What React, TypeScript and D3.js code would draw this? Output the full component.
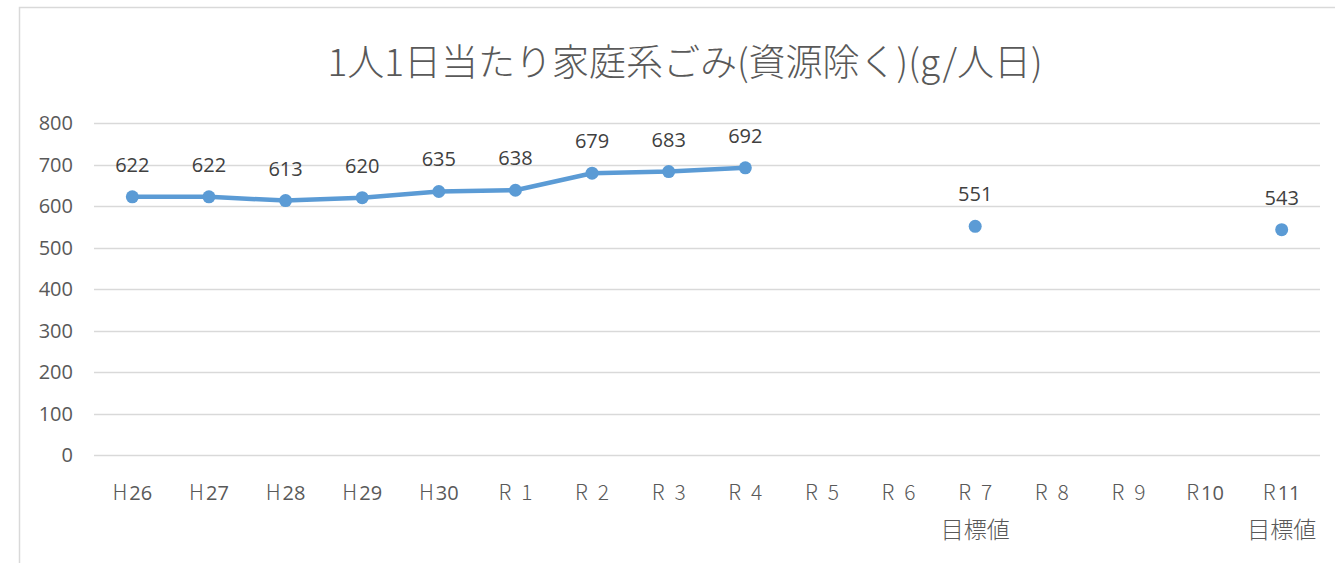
import * as d3 from "d3";
import { useEffect, useRef } from "react";

const categories = ["H26", "H27", "H28", "H29", "H30", "R1", "R2", "R3", "R4", "R5", "R6", "R7", "R8", "R9", "R10", "R11"];
const values: (number | null)[] = [622, 622, 613, 620, 635, 638, 679, 683, 692, null, null, 551, null, null, null, 543];
const subLabels = ["", "", "", "", "", "", "", "", "", "", "", "目標値", "", "", "", "目標値"];
const yTicks = [0, 100, 200, 300, 400, 500, 600, 700, 800];
const title = "1人1日当たり家庭系ごみ(資源除く)(g/人日)";

const W = 1335;
const H = 563;

const App = () => {
  const svgRef = useRef<SVGSVGElement>(null);

  useEffect(() => {
    document.body.style.margin = "0";
    const svg = d3.select(svgRef.current).attr("width", W).attr("height", H);
    svg.selectAll("*").remove();

    const x = d3.scaleBand().domain(categories).range([94, 1320]);
    const y = d3.scaleLinear().domain([0, 800]).range([455, 123]);
    const cx = (c: string) => (x(c) as number) + x.bandwidth() / 2;

    // chart frame
    svg.append("path")
      .attr("d", `M19.5,${H} V7.5 H${W}`)
      .attr("fill", "none")
      .attr("stroke", "#d9d9d9")
      .attr("stroke-width", 1.5);

    svg.append("text")
      .attr("x", 685)
      .attr("y", 76)
      .attr("text-anchor", "middle")
      .attr("font-family", "'Noto Sans CJK JP', sans-serif")
      .attr("font-weight", 300)
      .attr("font-size", 37)
      .attr("fill", "#595959")
      .text(title);

    // gridlines
    svg.append("g")
      .selectAll("line")
      .data(yTicks)
      .enter()
      .append("line")
      .attr("x1", 94)
      .attr("x2", 1320)
      .attr("y1", (d) => Math.round(y(d)) + 0.5)
      .attr("y2", (d) => Math.round(y(d)) + 0.5)
      .attr("stroke", "#d9d9d9")
      .attr("stroke-width", 1.3);

    svg.append("g")
      .selectAll("text")
      .data(yTicks)
      .enter()
      .append("text")
      .attr("x", 73)
      .attr("y", (d) => y(d) + 7)
      .attr("text-anchor", "end")
      .attr("font-family", "'Open Sans', sans-serif")
      .attr("font-size", 20)
      .attr("fill", "#595959")
      .text((d) => d);

    // category labels: era letter + number
    const cat = svg.append("g")
      .selectAll("text")
      .data(categories)
      .enter()
      .append("text")
      .attr("x", (d) => cx(d))
      .attr("y", 500)
      .attr("text-anchor", "middle")
      .attr("font-size", 21)
      .attr("fill", "#595959");
    cat.append("tspan")
      .attr("font-family", "'Noto Sans CJK JP', sans-serif")
      .attr("font-weight", 300)
      .text((d) => d[0]);
    cat.append("tspan")
      .attr("font-family", (d) => (d.length > 2 ? "'Open Sans', sans-serif" : "'Noto Sans CJK JP', sans-serif"))
      .attr("font-weight", (d) => (d.length > 2 ? 400 : 300))
      .attr("font-size", (d) => (d.length > 2 ? 20 : 21))
      .attr("dx", (d) => (d.length > 2 ? 2 : 10))
      .text((d) => d.slice(1));

    svg.append("g")
      .selectAll("text")
      .data(categories.map((c, i) => ({ c, s: subLabels[i] })).filter((d) => d.s))
      .enter()
      .append("text")
      .attr("x", (d) => cx(d.c))
      .attr("y", 538)
      .attr("text-anchor", "middle")
      .attr("font-family", "'Noto Sans CJK JP', sans-serif")
      .attr("font-weight", 300)
      .attr("font-size", 23)
      .attr("fill", "#595959")
      .text((d) => d.s);

    const pts = categories.map((c, i) => ({ c, v: values[i] }));

    const line = d3.line<{ c: string; v: number | null }>()
      .defined((d) => d.v !== null)
      .x((d) => cx(d.c))
      .y((d) => y(d.v as number));

    svg.append("path")
      .datum(pts)
      .attr("d", line)
      .attr("fill", "none")
      .attr("stroke", "#5b9bd5")
      .attr("stroke-width", 4.5)
      .attr("stroke-linejoin", "round");

    const valid = pts.filter((d) => d.v !== null);

    svg.append("g")
      .selectAll("circle")
      .data(valid)
      .enter()
      .append("circle")
      .attr("cx", (d) => cx(d.c))
      .attr("cy", (d) => y(d.v as number))
      .attr("r", 6.5)
      .attr("fill", "#5b9bd5");

    svg.append("g")
      .selectAll("text")
      .data(valid)
      .enter()
      .append("text")
      .attr("x", (d) => cx(d.c))
      .attr("y", (d) => y(d.v as number) - 25)
      .attr("text-anchor", "middle")
      .attr("font-family", "'Open Sans', sans-serif")
      .attr("font-size", 20)
      .attr("fill", "#404040")
      .text((d) => d.v as number);
  }, []);

  return (
    <div>
      <svg ref={svgRef}></svg>
    </div>
  );
};

export default App;
